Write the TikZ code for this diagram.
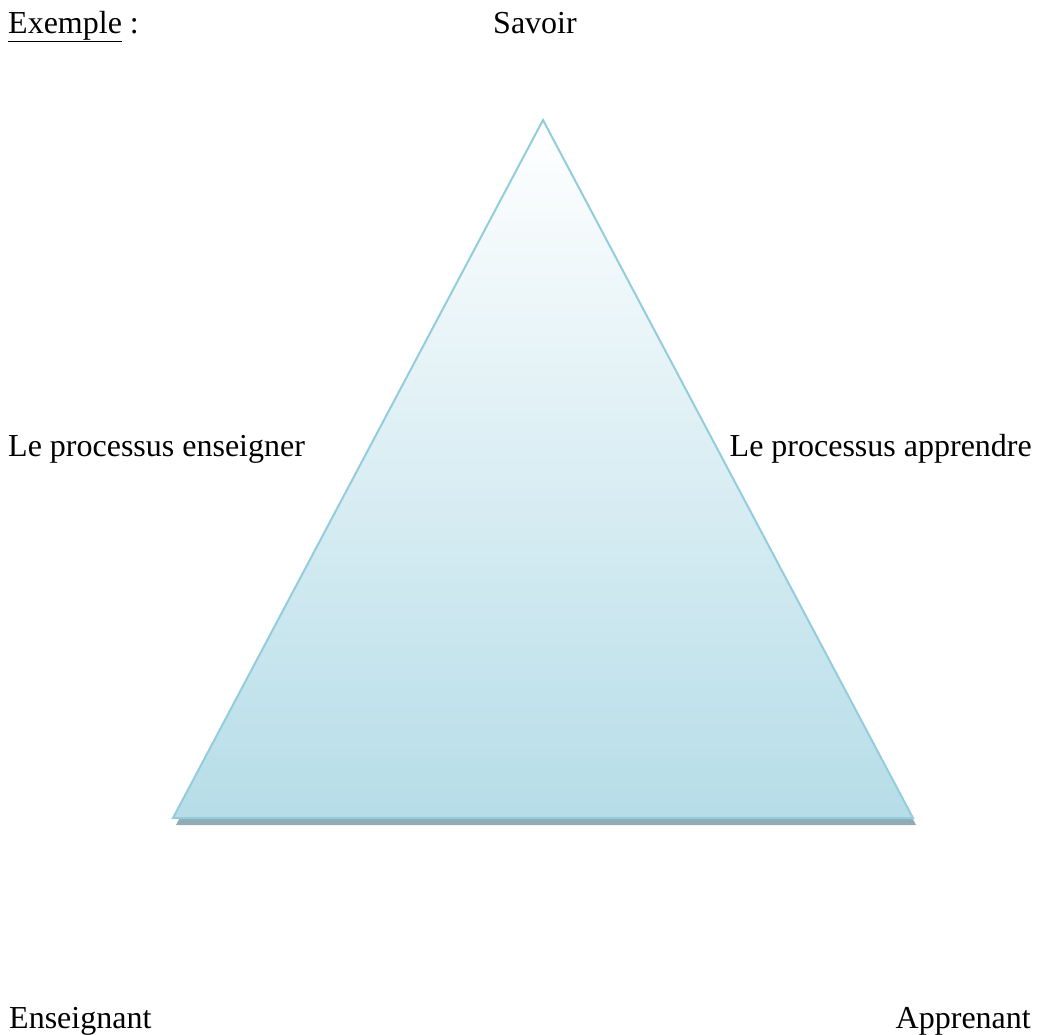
\documentclass[tikz,border=0pt]{standalone}
\usepackage{fontspec}
\setmainfont{Liberation Serif}

\definecolor{edgeblue}{HTML}{93CDDD}
\definecolor{fillblue}{HTML}{B6DDE8}
\definecolor{shadowgray}{HTML}{93ABB3}

\tikzset{label text/.style={font=\fontsize{32}{38}\selectfont, inner sep=0pt}}

\begin{document}
\begin{tikzpicture}[x=1pt,y=-1pt]
            \useasboundingbox (0,0) rectangle (1039,1034);
            \coordinate (top) at (543,120);
            \coordinate (bl) at (173,818);
            \coordinate (br) at (913,818);
            % shadow under the triangle
            \fill[shadowgray] ([xshift=3pt,yshift=-7pt]top) -- ([xshift=3pt,yshift=-7pt]bl) -- ([xshift=3pt,yshift=-7pt]br) -- cycle;
            \shadedraw[top color=white, bottom color=fillblue, draw=edgeblue, line width=2pt, line join=miter] (top) -- (bl) -- (br) -- cycle;
            \node[label text, anchor=base west] (exemple) at (8,33) {\underline{Exemple} :};
            \node[label text, anchor=base] (savoir) at (535,33) {Savoir};
            \node[label text, anchor=base west] (enseigner) at (8,456) {Le processus enseigner};
            \node[label text, anchor=base east] (apprendre) at (1032,456) {Le processus apprendre};
            \node[label text, anchor=base west] (enseignant) at (9,1028) {Enseignant};
            \node[label text, anchor=base east] (apprenant) at (1031,1028) {Apprenant};
        \end{tikzpicture}
\end{document}
